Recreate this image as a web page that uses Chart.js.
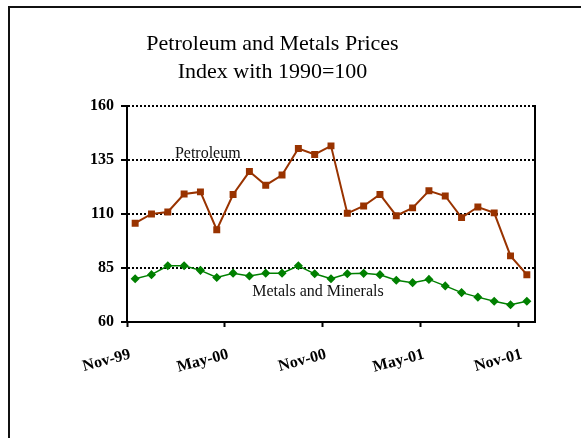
<!DOCTYPE html>
<html lang="en">
<head>
    <meta charset="UTF-8" />
    <title>Petroleum and Metals Prices</title>
    <script src="https://cdn.jsdelivr.net/npm/chart.js"></script>
    <style>
        html, body { margin: 0; padding: 0; background: #fff; overflow: hidden; }
        #frame { position: absolute; left: 8px; top: 6px; width: 600px; height: 460px;
                 border-left: 2px solid #111; border-top: 2px solid #111; }
        #box { position: absolute; left: 0; top: 0; width: 578px; height: 430px; }
    </style>
</head>
<body>
    <div id="frame">
        <div id="box"><canvas id="priceChart"></canvas></div>
    </div>

    <script>
        const months = ["Nov-99", "Dec-99", "Jan-00", "Feb-00", "Mar-00", "Apr-00", "May-00",
            "Jun-00", "Jul-00", "Aug-00", "Sep-00", "Oct-00", "Nov-00", "Dec-00", "Jan-01",
            "Feb-01", "Mar-01", "Apr-01", "May-01", "Jun-01", "Jul-01", "Aug-01", "Sep-01",
            "Oct-01", "Nov-01"];
        const petroleum = [105.7, 110.0, 110.9, 119.2, 120.2, 102.7, 119.0, 129.6, 123.3, 128.0,
            140.3, 137.5, 141.5, 110.3, 113.7, 119.0, 109.2, 112.8, 120.7, 118.3,
            108.3, 113.2, 110.5, 90.6, 81.9];
        const metals = [80.0, 81.9, 86.0, 86.0, 83.9, 80.6, 82.6, 81.3, 82.6, 82.6,
            86.0, 82.3, 80.0, 82.3, 82.5, 81.9, 79.3, 78.2, 79.7, 76.7,
            73.6, 71.5, 69.6, 68.0, 69.6];
        const yTicks = [60, 85, 110, 135, 160];

        const serif = '"Liberation Serif", "Times New Roman", serif';

        // right edge of the plot box + the two series captions
        const extras = {
            id: 'extras',
            afterDatasetsDraw(chart) {
                const { ctx, chartArea, scales: { x, y } } = chart;
                ctx.save();
                ctx.strokeStyle = '#000';
                ctx.lineWidth = 2;
                ctx.beginPath();
                ctx.moveTo(chartArea.right, chartArea.top - 1);
                ctx.lineTo(chartArea.right, chartArea.bottom + 1);
                ctx.stroke();
                ctx.font = '16px ' + serif;
                ctx.fillStyle = '#111';
                ctx.textAlign = 'center';
                ctx.textBaseline = 'middle';
                ctx.fillText('Petroleum', x.getPixelForValue(4.45), y.getPixelForValue(138));
                ctx.fillText('Metals and Minerals', x.getPixelForValue(11.2), y.getPixelForValue(74.2));
                ctx.restore();
            }
        };

        new Chart(document.getElementById('priceChart'), {
            type: 'line',
            data: {
                labels: months,
                datasets: [{
                    label: 'Petroleum',
                    data: petroleum,
                    borderColor: '#993300',
                    backgroundColor: '#993300',
                    borderWidth: 2,
                    pointStyle: 'rect',
                    pointRadius: 3.5,
                    tension: 0
                }, {
                    label: 'Metals and Minerals',
                    data: metals,
                    borderColor: '#008000',
                    backgroundColor: '#008000',
                    borderWidth: 1.5,
                    pointStyle: 'rectRot',
                    pointRadius: 3.5,
                    tension: 0
                }]
            },
            plugins: [extras],
            options: {
                responsive: true,
                maintainAspectRatio: false,
                animation: false,
                layout: { padding: { top: 0, right: 53, bottom: 0, left: 0 } },
                plugins: {
                    legend: { display: false },
                    tooltip: { enabled: false },
                    title: {
                        display: true,
                        text: ['Petroleum and Metals Prices', 'Index with 1990=100'],
                        color: '#000',
                        font: { family: serif, size: 22, weight: 'normal', lineHeight: 1.27 },
                        padding: { top: 22, bottom: 20 }
                    }
                },
                scales: {
                    x: {
                        offset: true,
                        afterFit: s => { s.height = 116; },
                        grid: {
                            offset: true,
                            drawOnChartArea: false,
                            tickLength: 5,
                            tickWidth: 2,
                            tickColor: c => (c.index % 6 === 0 ? '#000' : 'rgba(0,0,0,0)')
                        },
                        border: { color: '#000', width: 2 },
                        ticks: {
                            autoSkip: false,
                            minRotation: 15,
                            maxRotation: 15,
                            labelOffset: -5,
                            padding: 18,
                            color: '#000',
                            font: { family: serif, size: 16, weight: 'bold' },
                            callback: (v, i) => (i % 6 === 0 ? months[i] : '')
                        }
                    },
                    y: {
                        min: 60,
                        max: 160,
                        afterFit: s => { s.width = 117; },
                        afterBuildTicks: s => { s.ticks = yTicks.map(v => ({ value: v })); },
                        grid: {
                            color: c => (c.tick && c.tick.value === 60 ? 'rgba(0,0,0,0)' : '#000'),
                            lineWidth: 2,
                            tickLength: 6,
                            tickColor: '#000',
                            tickWidth: 2,
                            tickBorderDash: []
                        },
                        border: { color: '#000', width: 2, dash: [2, 2] },
                        ticks: {
                            padding: 7,
                            color: '#000',
                            font: { family: serif, size: 16, weight: 'bold' }
                        }
                    }
                }
            }
        });
    </script>
</body>
</html>
